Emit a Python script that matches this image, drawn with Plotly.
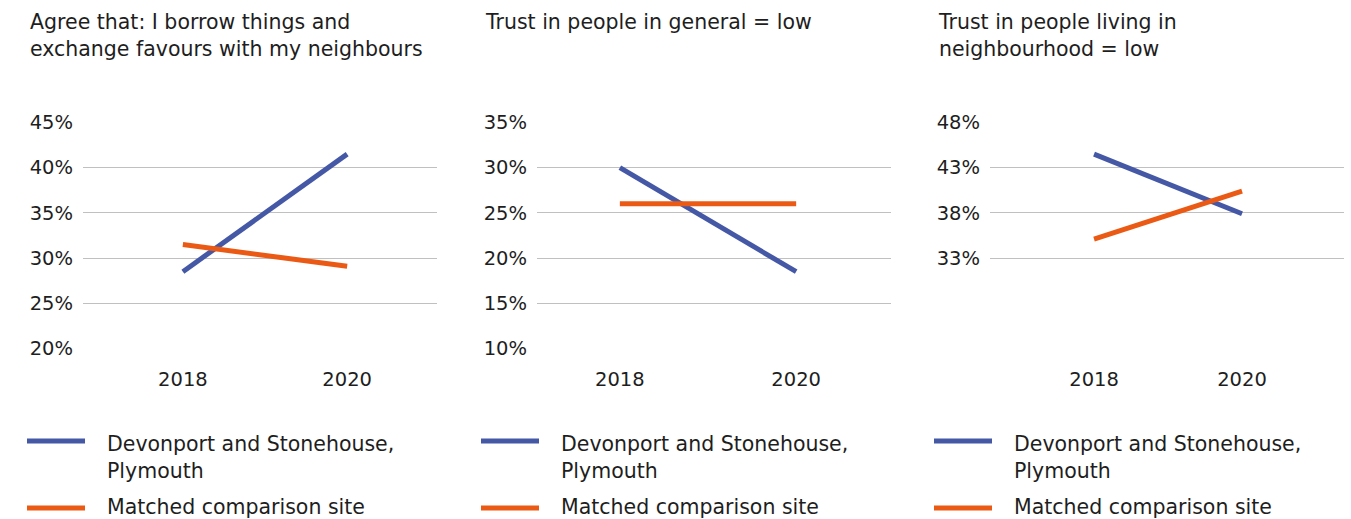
import plotly.graph_objects as go

# Survey years on the category axis
years = ["2018", "2020"]

# Panel titles
titles = [
    "Agree that: I borrow things and<br>exchange favours with my neighbours",
    "Trust in people in general = low",
    "Trust in people living in<br>neighbourhood = low",
]

# Percent values per panel
devonport = [
    [28.5, 41.5],
    [30.0, 18.5],
    [44.5, 37.9],
]
comparison = [
    [31.5, 29.1],
    [26.0, 26.0],
    [35.1, 40.4],
]

# Y-axis ticks per panel
y_ticks = [
    [20, 25, 30, 35, 40, 45],
    [10, 15, 20, 25, 30, 35],
    [33, 38, 43, 48],
]
y_ranges = [[19.95, 45.05], [9.95, 35.05], [22.95, 48.05]]

series_names = ["Devonport and Stonehouse,<br>Plymouth", "Matched comparison site"]
BLUE = "#4558A6"
ORANGE = "#EB5A14"
TEXT = "#1E1E1E"
GRID = "#C0C0C0"
FONT = "DejaVu Sans"
FS_TEXT = 20.5
FS_TICK = 19.5

W, H = 1351, 519

# Pixel layout of each panel (plot area left/right edges)
plot_x = [(83, 437), (537, 891), (990, 1344)]
x_ranges = [[-0.608, 1.547], [-0.470, 1.538], [-0.703, 1.689]]
title_x = [28, 483, 936]
legend_x = [27, 481, 934]
plot_top, plot_bottom = 122, 349


def px_x(p):
    return p / W


def px_y(p):
    return 1 - p / H


fig = go.Figure()

for i in range(3):
    sfx = "" if i == 0 else str(i + 1)
    xa, ya = "x" + sfx, "y" + sfx
    fig.add_trace(go.Scatter(
        x=years, y=devonport[i], mode="lines", xaxis=xa, yaxis=ya,
        line=dict(color=BLUE, width=5), showlegend=False, hoverinfo="skip"))
    fig.add_trace(go.Scatter(
        x=years, y=comparison[i], mode="lines", xaxis=xa, yaxis=ya,
        line=dict(color=ORANGE, width=5), showlegend=False, hoverinfo="skip"))

    x0, x1 = plot_x[i]
    fig.layout["xaxis" + sfx] = dict(
        domain=[px_x(x0), px_x(x1)], anchor=ya, type="category",
        range=x_ranges[i], showgrid=False, zeroline=False, showline=False,
        ticks="", ticklabelstandoff=16, automargin=False,
        tickfont=dict(family=FONT, size=FS_TICK, color=TEXT), fixedrange=True)
    fig.layout["yaxis" + sfx] = dict(
        domain=[px_y(plot_bottom), px_y(plot_top)], anchor=xa,
        range=y_ranges[i], tickvals=y_ticks[i],
        ticktext=[f"{v}%" for v in y_ticks[i]],
        showgrid=True, gridcolor=GRID, gridwidth=1, zeroline=False,
        showline=False, ticks="", ticklabelstandoff=9, automargin=False,
        tickfont=dict(family=FONT, size=FS_TICK, color=TEXT), fixedrange=True)

    # Panel title
    fig.add_annotation(
        x=px_x(title_x[i]), y=px_y(8), xref="paper", yref="paper",
        xanchor="left", yanchor="top", align="left", showarrow=False,
        text=titles[i], font=dict(family=FONT, size=FS_TEXT, color=TEXT))

    # Legend: line samples and labels
    lx = legend_x[i]
    for name, color, ly, ty in [
        (series_names[0], BLUE, 441, 430),
        (series_names[1], ORANGE, 508, 493),
    ]:
        fig.add_shape(
            type="line", xref="paper", yref="paper",
            x0=px_x(lx), x1=px_x(lx + 58), y0=px_y(ly), y1=px_y(ly),
            line=dict(color=color, width=5))
        fig.add_annotation(
            x=px_x(lx + 78), y=px_y(ty), xref="paper", yref="paper",
            xanchor="left", yanchor="top", align="left", showarrow=False,
            text=name, font=dict(family=FONT, size=FS_TEXT, color=TEXT))

fig.update_layout(
    width=W, height=H, margin=dict(l=0, r=0, t=0, b=0),
    paper_bgcolor="white", plot_bgcolor="white", hovermode=False,
)

fig.write_html("out.html", config={"displayModeBar": False})
